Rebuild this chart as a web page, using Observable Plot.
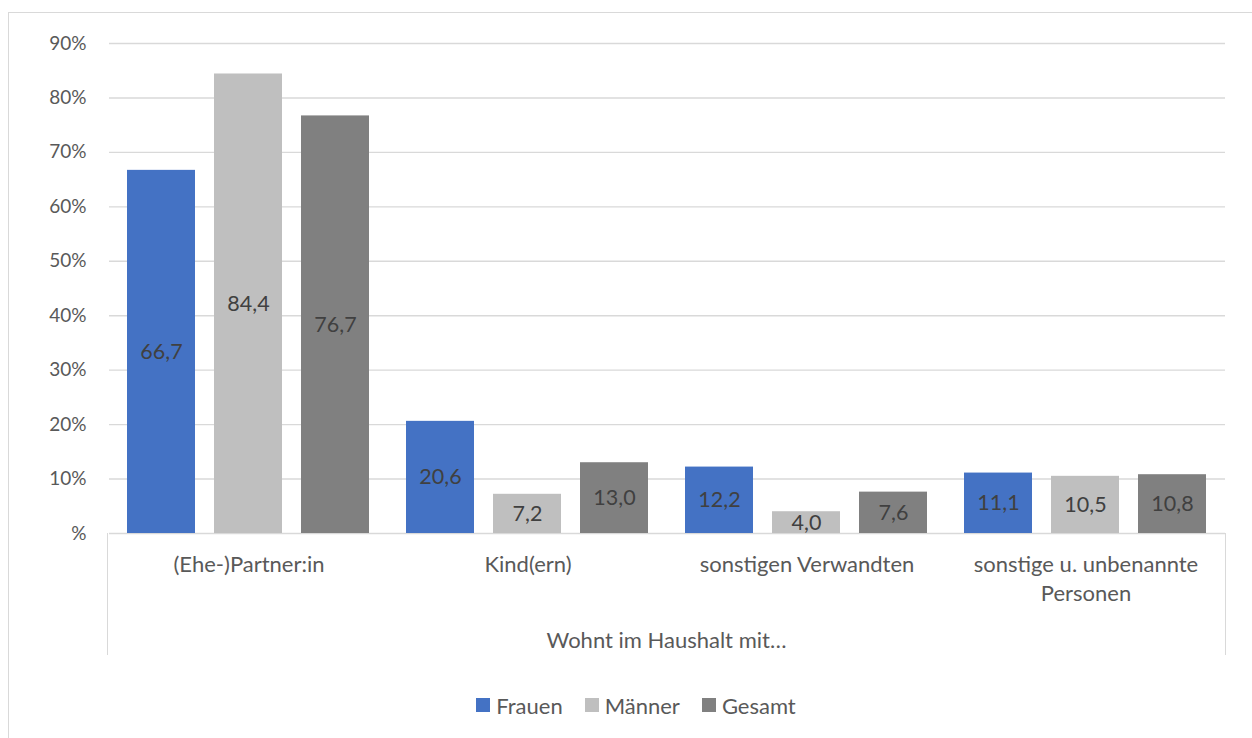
<!DOCTYPE html>
<html>
<head>
<meta charset="utf-8">
<script src="https://cdn.jsdelivr.net/npm/d3@7"></script>
<script src="https://cdn.jsdelivr.net/npm/@observablehq/plot@0.6"></script>
<style>
  html, body { margin: 0; padding: 0; background: #fff; overflow: hidden; }
  body { width: 1252px; height: 738px; position: relative; font-family: Lato, "Noto Sans", sans-serif; }
  #frame { position: absolute; left: 8px; top: 12px; width: 1300px; height: 800px; border: 1.5px solid #d9d9d9; box-sizing: border-box; }
  #chart { position: absolute; left: 0; top: 0; }
  #box { position: absolute; left: 107px; top: 533px; width: 1119px; height: 122px; border-left: 1.5px solid #d9d9d9; border-right: 1.5px solid #d9d9d9; box-sizing: border-box; }
  #xtitle { position: absolute; left: 107px; width: 1119px; top: 626px; text-align: center; color: #595959; font-size: 22px; }
  #legend { position: absolute; left: 0; width: 1272px; top: 690px; text-align: center; color: #595959; font-size: 22px; }
  #legend span.item { display: inline-flex; align-items: center; margin: 0 11px; }
  #legend span.sw { display: inline-block; width: 14px; height: 14px; margin-right: 6px; }
</style>
</head>
<body>
<div id="frame"></div>
<div id="chart"></div>
<div id="box"></div>
<div id="xtitle"></div>
<div id="legend"></div>
<script>
const categories = ["(Ehe-)Partner:in", "Kind(ern)", "sonstigen Verwandten", "sonstige u. unbenannte Personen"];
const categoryLabels = ["(Ehe-)Partner:in", "Kind(ern)", "sonstigen Verwandten", "sonstige u. unbenannte\nPersonen"];
const series = ["Frauen", "Männer", "Gesamt"];
const frauen = [66.7, 20.6, 12.2, 11.1];
const maenner = [84.4, 7.2, 4.0, 10.5];
const gesamt = [76.7, 13.0, 7.6, 10.8];
const colors = ["#4472C4", "#BFBFBF", "#808080"];
const yTicks = [0, 10, 20, 30, 40, 50, 60, 70, 80, 90];
const axisTitle = "Wohnt im Haushalt mit…";

const values = [frauen, maenner, gesamt];
const data = [];
categories.forEach((c, i) => series.forEach((s, j) => data.push({cat: c, series: s, value: values[j][i]})));

const fmt = v => v.toFixed(1).replace(".", ",");
const labelOf = c => categoryLabels[categories.indexOf(c)];

const H = 680;
const plot = Plot.plot({
  width: 1252,
  height: H,
  marginLeft: 107,
  marginRight: 26,
  marginTop: 43,
  marginBottom: H - 533,
  style: {fontFamily: "Lato, 'Noto Sans', sans-serif", fontSize: "19px", color: "#595959", background: "transparent"},
  fx: {domain: categories, padding: 0, label: null},
  x: {domain: series, paddingInner: 0.216, paddingOuter: 0.198, axis: null},
  y: {domain: [0, 90], axis: null},
  color: {domain: series, range: colors},
  marks: [
    Plot.gridY(yTicks, {stroke: "#d9d9d9", strokeOpacity: 1, strokeWidth: 1.4}),
    Plot.axisY(yTicks, {tickSize: 0, tickPadding: 23, tickFormat: d => d === 0 ? "%" : d + "%", fill: "#595959", fontSize: 19, label: null}),
    Plot.barY(data, {fx: "cat", x: "series", y: "value", fill: "series"}),
    Plot.text(data, {fx: "cat", x: "series", y: d => d.value / 2, text: d => fmt(d.value), fill: "#404040", fontSize: 21.5}),
    Plot.axisFx({anchor: "bottom", tickSize: 0, tickPadding: 17, tickFormat: labelOf, fill: "#595959", fontSize: 22, lineHeight: 1.35, label: null})
  ]
});
document.getElementById("chart").appendChild(plot);
document.getElementById("xtitle").textContent = axisTitle;
const leg = document.getElementById("legend");
series.forEach((s, i) => {
  const item = document.createElement("span");
  item.className = "item";
  const sw = document.createElement("span");
  sw.className = "sw";
  sw.style.background = colors[i];
  item.appendChild(sw);
  item.appendChild(document.createTextNode(s));
  leg.appendChild(item);
});
</script>
</body>
</html>
